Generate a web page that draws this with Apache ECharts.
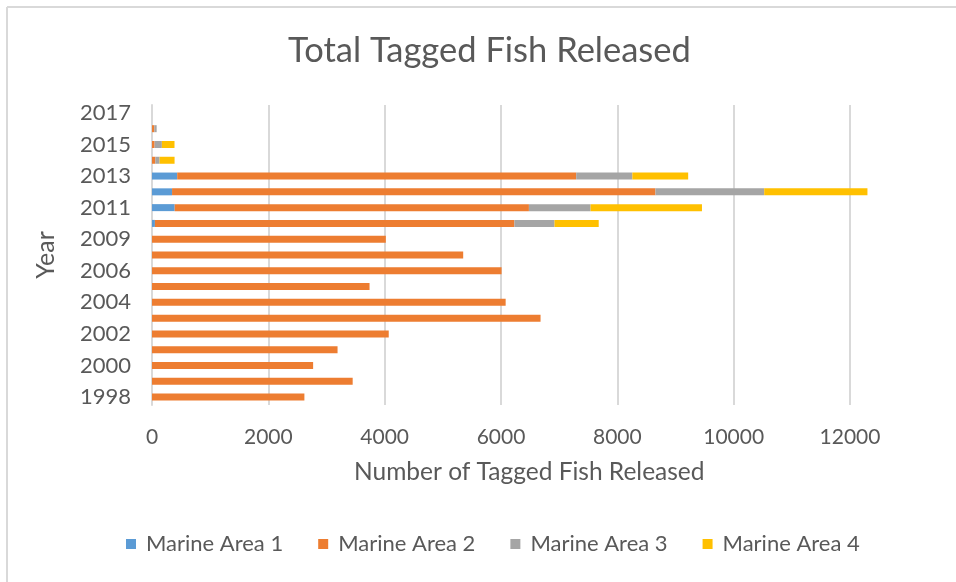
<!DOCTYPE html>
<html>
<head>
<meta charset="utf-8">
<title>Total Tagged Fish Released</title>
<script src="https://cdn.jsdelivr.net/npm/echarts@6/dist/echarts.min.js"></script>
<style>
  html, body { margin: 0; padding: 0; background: #fff; }
  #chart { width: 956px; height: 582px; }
</style>
</head>
<body>
<div id="chart"></div>
<script>
// Release years (one season missing from the record)
const years = ['1998', '1999', '2000', '2001', '2002', '2003', '2004', '2005', '2006',
  '2008', '2009', '2010', '2011', '2012', '2013', '2014', '2015', '2016', '2017'];

// Tagged fish released per marine area
const area1 = [0, 0, 0, 0, 0, 0, 0, 0, 0, 0, 0, 50, 390, 345, 433, 0, 0, 0, 0];
const area2 = [2620, 3450, 2770, 3190, 4070, 6680, 6080, 3740, 6010,
  5350, 4020, 6180, 6090, 8310, 6860, 57, 45, 40, 0];
const area3 = [0, 0, 0, 0, 0, 0, 0, 0, 0, 0, 0, 690, 1060, 1870, 965, 74, 125, 40, 0];
const area4 = [0, 0, 0, 0, 0, 0, 0, 0, 0, 0, 0, 760, 1915, 1775, 960, 257, 217, 0, 0];

const seriesNames = ['Marine Area 1', 'Marine Area 2', 'Marine Area 3', 'Marine Area 4'];
const seriesColors = ['#5B9BD5', '#ED7D31', '#A5A5A5', '#FFC000'];
const xTicks = { min: 0, max: 12000, interval: 2000 };

const FONT = 'Lato';
const TEXT = '#595959';

const chart = echarts.init(document.getElementById('chart'));

const seriesData = [area1, area2, area3, area4];
const series = seriesData.map((d, i) => ({
  name: seriesNames[i],
  type: 'bar',
  stack: 'total',
  data: d,
  barWidth: 7,
  clip: false,
  itemStyle: { color: seriesColors[i] },
  emphasis: { disabled: true }
}));

chart.setOption({
  animation: false,
  textStyle: { fontFamily: FONT },
  color: seriesColors,
  graphic: [
    // chart frame (left and top edges)
    { type: 'line', shape: { x1: 7, y1: 7, x2: 7, y2: 582 },
      style: { stroke: '#d9d9d9', lineWidth: 2 } },
    { type: 'line', shape: { x1: 7, y1: 7, x2: 956, y2: 7 },
      style: { stroke: '#d9d9d9', lineWidth: 2 } },
    { type: 'text', left: 288, top: 33,
      style: { text: 'Total Tagged Fish Released', fontFamily: FONT, fontSize: 34.5,
        fill: TEXT } },
    { type: 'text', left: 354, top: 460,
      style: { text: 'Number of Tagged Fish Released', fontFamily: FONT, fontSize: 24.5,
        fill: TEXT } }
  ],
  grid: { left: 152, right: 106, top: 105, bottom: 177, containLabel: false },
  legend: {
    data: seriesNames,
    bottom: 22,
    left: 121,
    itemWidth: 10,
    itemHeight: 10,
    itemGap: 35,
    icon: 'rect',
    textStyle: { fontFamily: FONT, fontSize: 22, color: TEXT, padding: [0, 0, 0, 5] }
  },
  xAxis: {
    type: 'value',
    min: xTicks.min,
    max: xTicks.max,
    interval: xTicks.interval,
    axisLine: { show: false },
    axisTick: { show: false },
    axisLabel: { fontFamily: FONT, fontSize: 21, color: TEXT, margin: 22,
      formatter: v => String(v) },
    splitLine: { show: true, lineStyle: { color: '#d9d9d9', width: 2 } }
  },
  yAxis: {
    type: 'category',
    data: years,
    name: 'Year',
    nameLocation: 'middle',
    nameRotate: 90,
    nameGap: 94,
    nameTextStyle: { fontFamily: FONT, fontSize: 25, color: TEXT },
    axisLine: { show: true, lineStyle: { color: '#d9d9d9', width: 2 } },
    axisTick: { show: false },
    axisLabel: { interval: 1, fontFamily: FONT, fontSize: 22, color: TEXT, margin: 21 },
    splitLine: { show: false }
  },
  series: series
});
</script>
</body>
</html>
